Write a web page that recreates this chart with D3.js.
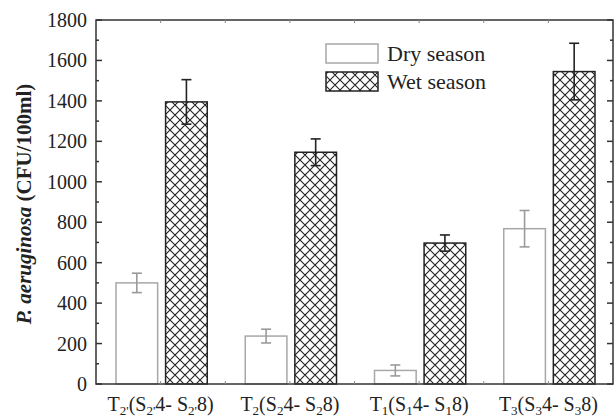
<!DOCTYPE html>
<html>
<head>
<meta charset="utf-8">
<script src="https://cdn.jsdelivr.net/npm/d3@7"></script>
<style>
  body { margin: 0; background: #fff; }
  svg, svg text { font-family: 'Liberation Serif', 'Times New Roman', Times, serif; }
</style>
</head>
<body>
<svg id="chart" width="615" height="419"></svg>
<script>
// data
const groups = ['g1', 'g2', 'g3', 'g4'];
// label pieces: [text, isSubscript]
const groupLabels = [
	[['T', 0], ["2'", 1], ['(S', 0], ["2'", 1], ['4- S', 0], ["2'", 1], ['8)', 0]],
	[['T', 0], ['2', 1], ['(S', 0], ['2', 1], ['4- S', 0], ['2', 1], ['8)', 0]],
	[['T', 0], ['1', 1], ['(S', 0], ['1', 1], ['4- S', 0], ['1', 1], ['8)', 0]],
	[['T', 0], ['3', 1], ['(S', 0], ['3', 1], ['4- S', 0], ['3', 1], ['8)', 0]],
];
const dryValues = [500, 237, 67, 768];
const dryErrors = [48, 34, 27, 90];
const wetValues = [1395, 1146, 697, 1545];
const wetErrors = [110, 66, 40, 140];
const yTicks = [0, 200, 400, 600, 800, 1000, 1200, 1400, 1600, 1800];
const yMinorTicks = [100, 300, 500, 700, 900, 1100, 1300, 1500, 1700];
const seriesNames = ['Dry season', 'Wet season'];

const FONT = "'Liberation Serif', 'Times New Roman', Times, serif";
const margin = { top: 20, right: 2, bottom: 35, left: 96 },
	width = 615, height = 419;

const svg = d3.select('#chart').attr('font-family', FONT);

// crosshatch pattern
const defs = svg.append('defs');
const pat = defs.append('pattern')
	.attr('id', 'hatch')
	.attr('patternUnits', 'userSpaceOnUse')
	.attr('width', 10).attr('height', 10)
	.attr('x', 0).attr('y', 0);
pat.append('rect').attr('width', 10).attr('height', 10).attr('fill', '#fff');
pat.append('path')
	.attr('d', 'M0,0L10,10M10,0L0,10M-5,5L5,-5M5,15L15,5M-5,5L5,15M5,-5L15,5')
	.attr('stroke', '#222').attr('stroke-width', 1.1).attr('fill', 'none');

const x = d3.scaleBand().domain(groups).range([margin.left, width - margin.right]).padding(0);
const xSub = d3.scaleBand().domain(['dry', 'wet']).range([20, x.bandwidth() - 18]).paddingInner(0.16);
const y = d3.scaleLinear().domain([0, 1800]).range([height - margin.bottom, margin.top]);

const x0 = margin.left, x1 = width - margin.right,
	yb = y(0), yt = y(1800);

// bars
const g = svg.append('g');
const dryData = groups.map((k, i) => ({ k, v: dryValues[i], e: dryErrors[i] })),
	wetData = groups.map((k, i) => ({ k, v: wetValues[i], e: wetErrors[i] }));

g.selectAll('.dry').data(dryData).enter().append('rect')
	.attr('class', 'dry')
	.attr('x', d => x(d.k) + xSub('dry'))
	.attr('y', d => y(d.v))
	.attr('width', xSub.bandwidth())
	.attr('height', d => y(0) - y(d.v))
	.attr('fill', '#fff').attr('stroke', '#a8a8a8').attr('stroke-width', 1.5);

g.selectAll('.wet').data(wetData).enter().append('rect')
	.attr('class', 'wet')
	.attr('x', d => x(d.k) + xSub('wet'))
	.attr('y', d => y(d.v))
	.attr('width', xSub.bandwidth())
	.attr('height', d => y(0) - y(d.v))
	.attr('fill', 'url(#hatch)').attr('stroke', '#222').attr('stroke-width', 1.5);

// error bars
function errorBars(data, key, color) {
	let cx = d => x(d.k) + xSub(key) + xSub.bandwidth() / 2;
	let eg = g.selectAll(`.err-${key}`).data(data).enter().append('g')
		.attr('class', `err-${key}`)
		.attr('stroke', color).attr('stroke-width', 1.6);
	eg.append('line').attr('x1', cx).attr('x2', cx)
		.attr('y1', d => y(d.v + d.e)).attr('y2', d => y(d.v - d.e));
	eg.append('line').attr('x1', d => cx(d) - 5).attr('x2', d => cx(d) + 5)
		.attr('y1', d => y(d.v + d.e)).attr('y2', d => y(d.v + d.e));
	eg.append('line').attr('x1', d => cx(d) - 5).attr('x2', d => cx(d) + 5)
		.attr('y1', d => y(d.v - d.e)).attr('y2', d => y(d.v - d.e));
}
errorBars(dryData, 'dry', '#9a9a9a');
errorBars(wetData, 'wet', '#222');

// frame
const axis = svg.append('g').attr('stroke', '#333').attr('stroke-width', 1.5);
axis.append('rect').attr('x', x0).attr('y', yt).attr('width', x1 - x0).attr('height', yb - yt)
	.attr('fill', 'none');

// y ticks, inward on both sides
yTicks.forEach(t => {
	axis.append('line').attr('x1', x0).attr('x2', x0 + 6).attr('y1', y(t)).attr('y2', y(t));
	axis.append('line').attr('x1', x1).attr('x2', x1 - 6).attr('y1', y(t)).attr('y2', y(t));
});
yMinorTicks.forEach(t => {
	axis.append('line').attr('x1', x0).attr('x2', x0 + 3).attr('y1', y(t)).attr('y2', y(t));
	axis.append('line').attr('x1', x1).attr('x2', x1 - 3).attr('y1', y(t)).attr('y2', y(t));
});
// x ticks at group centres and boundaries, top and bottom
const xt = [];
groups.forEach(k => { xt.push(x(k) + x.bandwidth() / 2); xt.push(x(k) + x.bandwidth()); });
xt.pop();
xt.forEach(v => {
	axis.append('line').attr('x1', v).attr('x2', v).attr('y1', yb).attr('y2', yb - 3).attr('stroke', '#888').attr('stroke-width', 1);
	axis.append('line').attr('x1', v).attr('x2', v).attr('y1', yt).attr('y2', yt + 3).attr('stroke', '#888').attr('stroke-width', 1);
});

// y tick labels
svg.append('g').selectAll('text').data(yTicks).enter().append('text')
	.attr('font-family', FONT)
	.attr('x', x0 - 9).attr('y', d => y(d)).attr('dy', '0.35em')
	.attr('text-anchor', 'end').attr('font-size', 20).attr('fill', '#222')
	.text(d => d);

// x labels, with subscripts
const xl = svg.append('g').selectAll('text').data(groups).enter().append('text')
	.attr('font-family', FONT)
	.attr('x', d => x(d) + x.bandwidth() / 2).attr('y', 411)
	.attr('text-anchor', 'middle').attr('font-size', 20).attr('fill', '#222');
xl.each(function (d, i) {
	let t = d3.select(this), prevSub = false;
	groupLabels[i].forEach(([s, sub]) => {
		let ts = t.append('tspan').text(s);
		if (sub) ts.attr('font-size', 13).attr('dy', prevSub ? 0 : 4);
		else ts.attr('dy', prevSub ? -4 : 0);
		prevSub = !!sub;
	});
});

// y title
const yt_ = svg.append('text')
	.attr('font-family', FONT)
	.attr('transform', `translate(31,${(yt + yb) / 2 + 2}) rotate(-90)`)
	.attr('text-anchor', 'middle').attr('font-size', 21).attr('font-weight', 'bold').attr('fill', '#222');
yt_.append('tspan').attr('font-style', 'italic').text('P. aeruginosa');
yt_.append('tspan').text(' (CFU/100ml)');

// legend
const legend = svg.append('g');
const legendFills = ['#fff', 'url(#hatch)'], legendStroke = ['#a8a8a8', '#222'];
seriesNames.forEach((n, i) => {
	let ly = 44 + i * 28;
	legend.append('rect').attr('x', 326).attr('y', ly).attr('width', 52).attr('height', 19)
		.attr('fill', legendFills[i]).attr('stroke', legendStroke[i]).attr('stroke-width', 1.5);
	legend.append('text').attr('font-family', FONT).attr('x', 387).attr('y', ly + 17)
		.attr('font-size', 22).attr('fill', '#222').text(n);
});
</script>
</body>
</html>
